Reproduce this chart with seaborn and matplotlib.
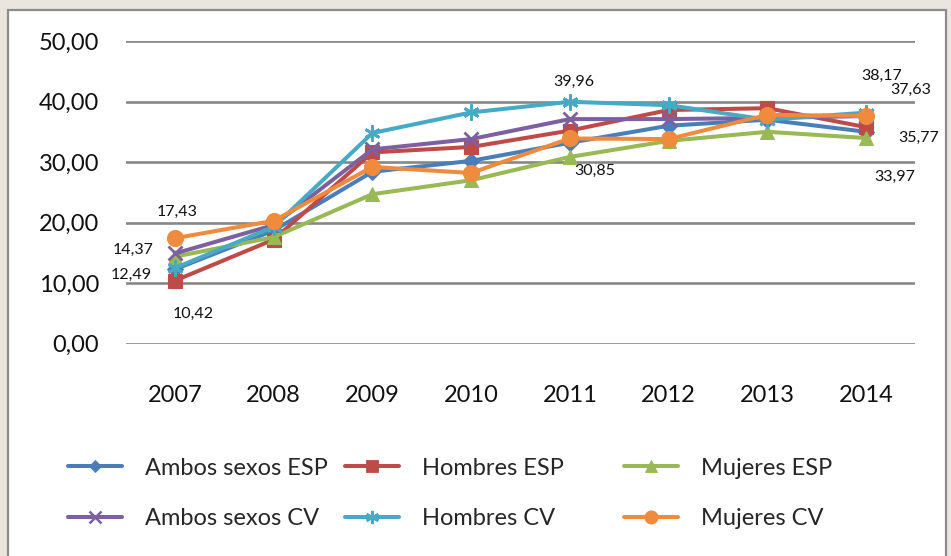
import matplotlib

matplotlib.use("Agg")
import matplotlib.pyplot as plt
import pandas as pd
import seaborn as sns
from matplotlib.lines import Line2D
from matplotlib.patches import Rectangle

# ---- data
years = [2007, 2008, 2009, 2010, 2011, 2012, 2013, 2014]
ambos_esp = [12.30, 18.70, 28.40, 30.20, 33.20, 36.00, 37.00, 35.00]
hombres_esp = [10.42, 17.20, 31.60, 32.50, 35.20, 38.60, 38.90, 35.77]
mujeres_esp = [14.37, 17.60, 24.70, 27.00, 30.85, 33.50, 35.00, 33.97]
ambos_cv = [14.90, 19.60, 32.10, 33.80, 37.10, 37.10, 37.30, 37.60]
hombres_cv = [12.49, 19.30, 34.80, 38.20, 39.96, 39.40, 37.00, 38.17]
mujeres_cv = [17.43, 20.30, 29.20, 28.20, 33.90, 33.80, 37.80, 37.63]

series_names = ["Ambos sexos ESP", "Hombres ESP", "Mujeres ESP",
                "Ambos sexos CV", "Hombres CV", "Mujeres CV"]
series_values = [ambos_esp, hombres_esp, mujeres_esp,
                 ambos_cv, hombres_cv, mujeres_cv]
y_ticks = [0, 10, 20, 30, 40, 50]

# labelled points: (series, year, offset in points)
point_labels = [
    ("Mujeres CV", 2007, (1.7, 19.2)),
    ("Mujeres ESP", 2007, (-30.0, 4.8)),
    ("Hombres CV", 2007, (-31.2, -4.9)),
    ("Hombres ESP", 2007, (13.2, -23.9)),
    ("Hombres CV", 2011, (3.2, 14.4)),
    ("Mujeres ESP", 2011, (17.6, -10.4)),
    ("Hombres CV", 2014, (11.3, 26.6)),
    ("Mujeres CV", 2014, (32.2, 18.6)),
    ("Hombres ESP", 2014, (37.7, -7.6)),
    ("Mujeres ESP", 2014, (20.9, -27.7)),
]

# ---- styles
colors = {"Ambos sexos ESP": "#4A7EBB", "Hombres ESP": "#BE4B48",
          "Mujeres ESP": "#98B954", "Ambos sexos CV": "#7D60A0",
          "Hombres CV": "#46AAC5", "Mujeres CV": "#F08A3C"}
markers = {"Ambos sexos ESP": "D", "Hombres ESP": "s", "Mujeres ESP": "^",
           "Ambos sexos CV": "x", "Hombres CV": (6, 2, 0),
           "Mujeres CV": "o"}
msize = {"Ambos sexos ESP": 8.5, "Hombres ESP": 10.5, "Mujeres ESP": 10.5,
         "Ambos sexos CV": 10.5, "Hombres CV": 11.5, "Mujeres CV": 11.5}

df = pd.DataFrame({
    "year": years * len(series_names),
    "value": [v for vals in series_values for v in vals],
    "serie": [n for n in series_names for _ in years],
})

sns.set_theme(style="white")
plt.rcParams["font.family"] = ["Lato", "DejaVu Sans"]

fig = plt.figure(figsize=(9.51, 5.56), dpi=100, facecolor="#ebe5df")
fig.patches.append(Rectangle((8 / 951, -0.02), 938 / 951, 1.002,
                             transform=fig.transFigure, facecolor="white",
                             edgecolor="#8c8c8c", linewidth=1.6, zorder=-5))
ax = fig.add_axes([125.6 / 951, 1 - 343.7 / 556,
                   789.8 / 951, (343.7 - 41) / 556])
ax.set_facecolor("none")

for name in series_names:
    sub = df[df["serie"] == name]
    sns.lineplot(data=sub, x="year", y="value", ax=ax, color=colors[name],
                 linewidth=2.9, marker=markers[name], markersize=msize[name],
                 markeredgewidth=2.0 if markers[name] in ("x", (6, 2, 0))
                 else 0.8,
                 markeredgecolor=colors[name], zorder=3)

for name, yr, (dx, dy) in point_labels:
    v = series_values[series_names.index(name)][years.index(yr)]
    ax.annotate(f"{v:.2f}".replace(".", ","), xy=(yr, v),
                xytext=(dx, dy), textcoords="offset points",
                ha="center", va="center", fontsize=11.5, color="#111111",
                zorder=5)

ax.set_xlim(2006.5, 2014.5)
ax.set_ylim(0, 50)
ax.set_xticks(years)
ax.set_xticklabels([str(y) for y in years])
ax.set_yticks(y_ticks)
ax.set_yticklabels([f"{t:.2f}".replace(".", ",") for t in y_ticks])
for t in y_ticks:
    ax.axhline(t, color="#878787", linewidth=1.9, zorder=1)
ax.tick_params(axis="x", length=0, pad=30, labelsize=17, labelcolor="#111111")
ax.tick_params(axis="y", length=0, pad=19, labelsize=17, labelcolor="#111111")
ax.set_xlabel("")
ax.set_ylabel("")
ax.grid(False)
sns.despine(ax=ax, left=True, bottom=True)

# legend: three columns of two entries, Excel-style equal columns
col_x = [68 / 951, 345 / 951, 624 / 951]
for i, x0 in enumerate(col_x):
    names = [series_names[i], series_names[i + 3]]
    handles = [Line2D([], [], color=colors[n], linewidth=2.9,
                      marker=markers[n], markersize=msize[n] - 2,
                      markeredgewidth=1.8 if markers[n] in ("x", (6, 2, 0))
                      else 0.6, markeredgecolor=colors[n]) for n in names]
    fig.legend(handles, names, loc="center left",
               bbox_to_anchor=(x0, 1 - 493.5 / 556),
               bbox_transform=fig.transFigure, frameon=False,
               fontsize=17, handlelength=2.3, handletextpad=0.95,
               labelspacing=1.25, borderpad=0, borderaxespad=0)

fig.savefig("out.png", dpi=100, facecolor=fig.get_facecolor())
plt.close(fig)
